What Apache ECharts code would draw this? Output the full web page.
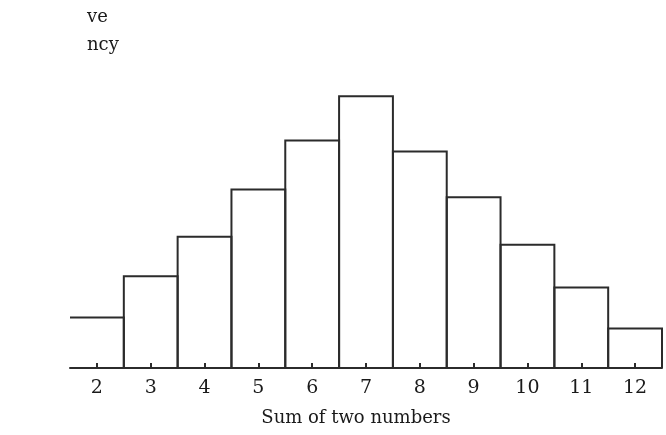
<!DOCTYPE html>
<html>
<head>
<meta charset="utf-8">
<script src="https://cdn.jsdelivr.net/npm/echarts@6/dist/echarts.min.js"></script>
<style>
  html, body { margin: 0; padding: 0; background: #fff; }
  #chart { width: 666px; height: 435px; }
</style>
</head>
<body>
<div id="chart"></div>
<script>
// Sum of two numbers and the relative frequency of each sum
const sums = ['2', '3', '4', '5', '6', '7', '8', '9', '10', '11', '12'];
const relativeFrequency = [0.032, 0.058, 0.083, 0.113, 0.144, 0.172, 0.137, 0.108, 0.078, 0.051, 0.025];
const axisTitle = 'Sum of two numbers';

const serif = '"DejaVu Serif", "Liberation Serif", serif';
const ink = '#2b2b2b';
const chart = echarts.init(document.getElementById('chart'), null, { renderer: 'canvas' });

// Histogram columns drawn as outlines that share their edges with neighbours;
// the first column has no left edge.
function renderColumn(params, api) {
  const i = params.dataIndex;
  const base = api.coord([i, 0]);
  const top = api.coord([i, api.value(1)]);
  const half = api.size([1, 0])[0] / 2;
  const x0 = base[0] - half;
  const x1 = base[0] + half;
  const pts = [];
  if (i > 0) pts.push([x0, base[1]]);
  pts.push([x0, top[1]], [x1, top[1]], [x1, base[1]]);
  return {
    type: 'polyline',
    shape: { points: pts },
    style: { stroke: ink, lineWidth: 2, fill: null }
  };
}

chart.setOption({
  animation: false,
  backgroundColor: '#fff',
  grid: { left: 70, right: 4, top: 52, bottom: 67, containLabel: false },
  graphic: [
    { type: 'text', left: 87, top: 8, style: { text: 've', font: '18px ' + serif, fill: '#1a1a1a' } },
    { type: 'text', left: 87, top: 36, style: { text: 'ncy', font: '18px ' + serif, fill: '#1a1a1a' } }
  ],
  xAxis: {
    type: 'category',
    data: sums,
    name: axisTitle,
    nameLocation: 'middle',
    nameGap: 41,
    nameTextStyle: { fontFamily: serif, fontSize: 18, color: '#1a1a1a', padding: [0, 20, 0, 0] },
    axisLine: { lineStyle: { color: ink, width: 2 } },
    axisTick: { show: true, alignWithLabel: true, inside: true, length: 5, lineStyle: { color: ink, width: 2 } },
    axisLabel: { fontFamily: serif, fontSize: 19, color: '#1a1a1a', margin: 11 }
  },
  yAxis: {
    type: 'value',
    min: 0,
    max: 0.2,
    show: false
  },
  series: [{
    type: 'custom',
    renderItem: renderColumn,
    encode: { x: 0, y: 1 },
    data: relativeFrequency.map((v, i) => [i, v])
  }]
});
</script>
</body>
</html>
